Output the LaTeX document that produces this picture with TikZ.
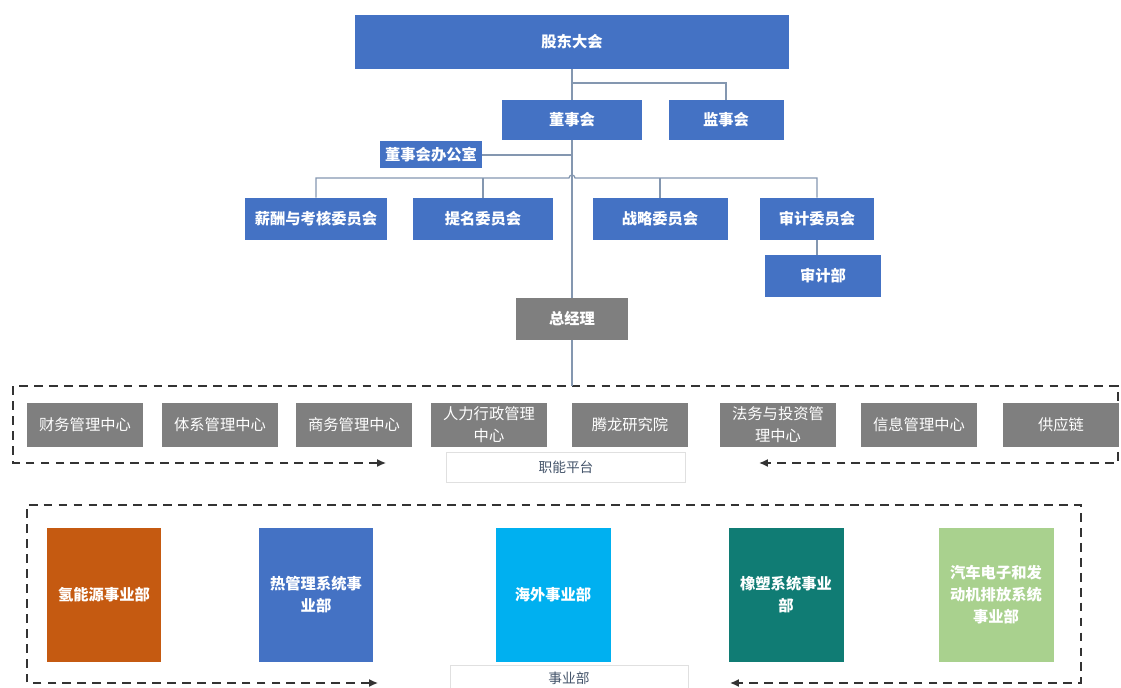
\documentclass[tikz,border=0pt]{standalone}
\usepackage{fontspec}
\setmainfont{Noto Sans CJK SC}
\usetikzlibrary{arrows.meta,positioning,calc}
\definecolor{bossblue}{HTML}{4472C4}
\definecolor{deptgrey}{HTML}{7F7F7F}
\definecolor{linegrey}{HTML}{8497B0}
\definecolor{hydroorange}{HTML}{C55A11}
\definecolor{skyblue}{HTML}{00B0F0}
\definecolor{deepteal}{HTML}{107C74}
\definecolor{leafgreen}{HTML}{A9D18E}
\definecolor{tagtext}{HTML}{44546A}

\begin{document}
\begin{tikzpicture}[x=0.02cm,y=-0.02cm,
	govbox/.style={rectangle,fill=bossblue,text=white,align=center,inner sep=0pt,
		font=\fontsize{8.7}{12.5}\selectfont\bfseries},
	deptbox/.style={rectangle,fill=deptgrey,text=white,align=center,inner sep=0pt,
		minimum width=2.32cm,minimum height=0.88cm,font=\fontsize{8.7}{12.5}\selectfont},
	unitbox/.style={rectangle,text=white,align=center,inner sep=0pt,
		minimum width=2.3cm,minimum height=2.68cm,font=\fontsize{8.7}{12.5}\selectfont\bfseries},
	tagbox/.style={rectangle,draw=black!12,fill=white,text=tagtext,inner sep=0pt,
		font=\fontsize{7.8}{9}\selectfont},
	link/.style={draw=linegrey,line width=0.7pt},
	frame/.style={draw=black!80,line width=0.8pt,dash pattern=on 5pt off 3.5pt,
		{Latex[length=5pt,width=4.5pt]}-{Latex[length=5pt,width=4.5pt]}}]
	\useasboundingbox (0,0) rectangle (1121,688);

	\draw[frame] (386,463) -- (13,463) |- (1118,386) |- (759,463);
	\draw[frame] (378,683) -- (27,683) |- (1081,505) |- (730,683);

	\node[govbox,minimum width=8.7cm,minimum height=1.08cm] (meeting) at (572,42) {股东大会};
	\node[govbox,minimum width=2.8cm,minimum height=0.8cm] (board) at (572,120) {董事会};
	\node[govbox,minimum width=2.3cm,minimum height=0.8cm] (supervisor) at (726,120) {监事会};
	\node[govbox,minimum width=2.04cm,minimum height=0.54cm] (office) at (431,155) {董事会办公室};

	\node[govbox,minimum width=2.84cm,minimum height=0.84cm] (pay) at (316,219) {薪酬与考核委员会};
	\node[govbox,minimum width=2.8cm,minimum height=0.84cm] (nomination) at (483,219) {提名委员会};
	\node[govbox,minimum width=2.7cm,minimum height=0.84cm] (strategy) at (660,219) {战略委员会};
	\node[govbox,minimum width=2.28cm,minimum height=0.84cm] (audit) at (817,219) {审计委员会};
	\node[govbox,minimum width=2.32cm,minimum height=0.84cm] (auditdept) at (823,276) {审计部};
	\node[govbox,fill=deptgrey,minimum width=2.24cm,minimum height=0.84cm] (gm) at (572,319) {总经理};

	\node[deptbox] (finance) at (85,425) {财务管理中心};
	\node[deptbox] (system) at (220,425) {体系管理中心};
	\node[deptbox] (business) at (354,425) {商务管理中心};
	\node[deptbox] (hr) at (489,425) {人力行政管理\\中心};
	\node[deptbox] (research) at (630,425) {腾龙研究院};
	\node[deptbox] (legal) at (778,425) {法务与投资管\\理中心};
	\node[deptbox] (infotech) at (919,425) {信息管理中心};
	\node[deptbox] (supply) at (1061,425) {供应链};
	\node[tagbox,minimum width=4.78cm,minimum height=0.6cm] (functag) at (566,467) {职能平台};

	\node[unitbox,fill=hydroorange] (hydrogen) at (104,595) {氢能源事业部};
	\node[unitbox,fill=bossblue] (thermal) at (316,595) {热管理系统事\\业部};
	\node[unitbox,fill=skyblue] (overseas) at (553,595) {海外事业部};
	\node[unitbox,fill=deepteal] (rubber) at (786,595) {橡塑系统事业\\部};
	\node[unitbox,fill=leafgreen] (autoelec) at (996,595) {汽车电子和发\\动机排放系统\\事业部};
	\node[tagbox,minimum width=4.76cm,minimum height=0.52cm] (unittag) at (569,678) {事业部};

	\coordinate (split) at (572,83);
	\coordinate (bus) at (572,178);
	\coordinate (ftop) at (572,386);

	\draw[link] (meeting.south) -- (board.north);
	\draw[link] (split) -| (supervisor.north);
	\draw[link] (office.east) -- (office.east -| board.south);
	\draw[link] (board.south) -- (gm.north);
	\draw[link] (pay.north) |- ($(bus)+(-3,0)$) arc[start angle=180,end angle=0,radius=0.06cm] -| (audit.north);
	\draw[link] (nomination.north) -- (nomination.north |- bus);
	\draw[link] (strategy.north) -- (strategy.north |- bus);
	\draw[link] (audit.south) -- (audit.south |- auditdept.north);
	\draw[link] (gm.south) -- (ftop);
\end{tikzpicture}
\end{document}
